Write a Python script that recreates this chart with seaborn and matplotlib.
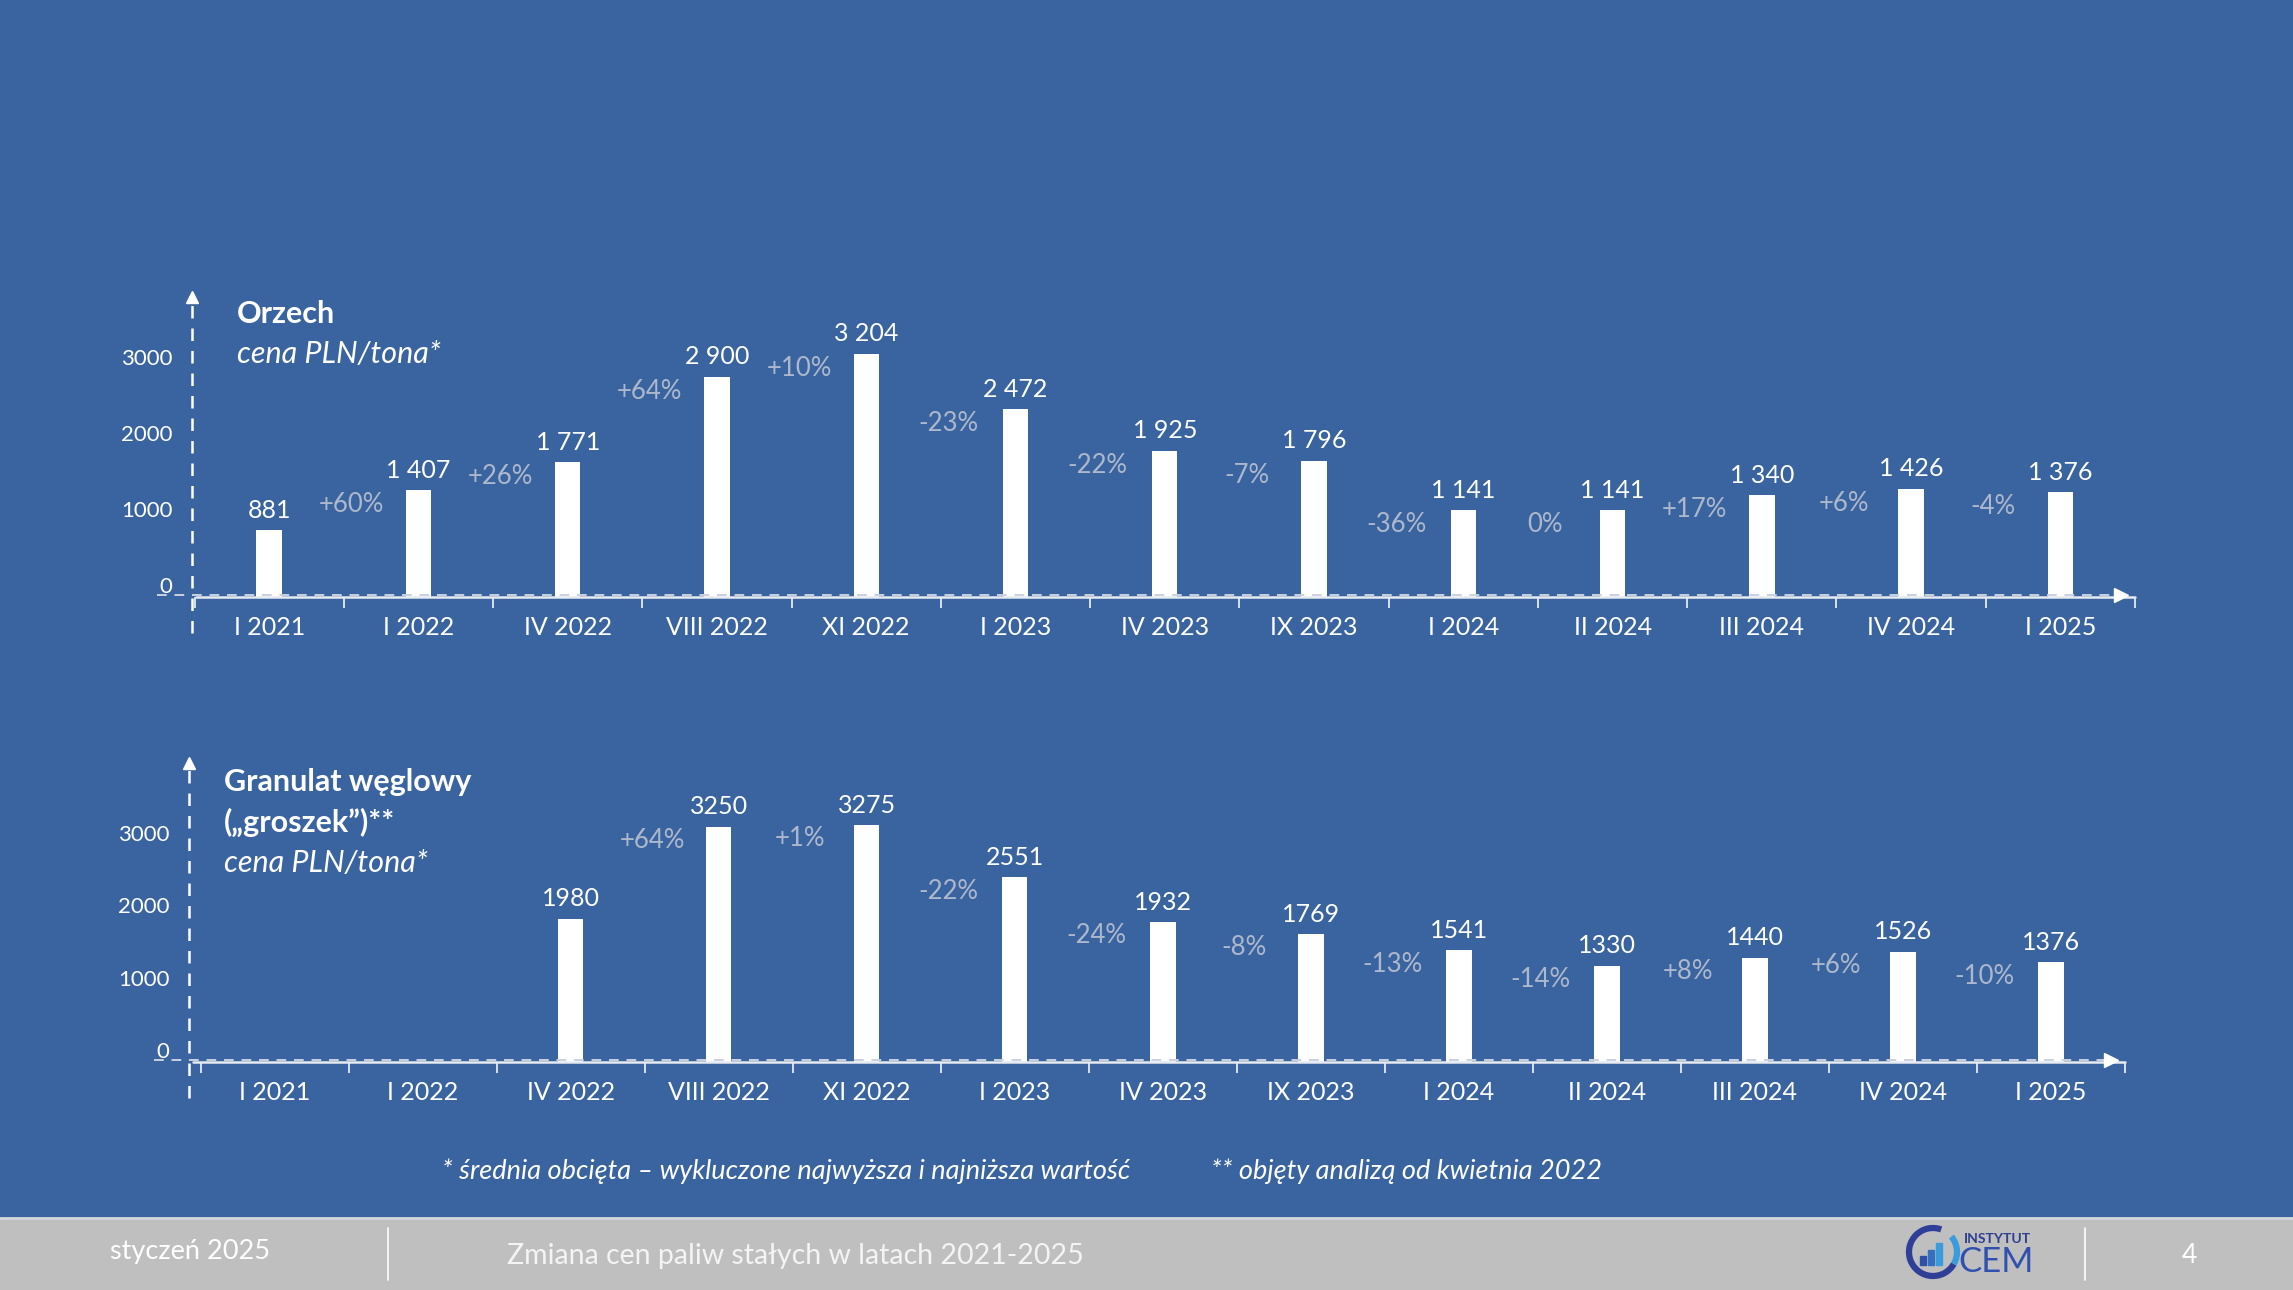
import numpy as np
import pandas as pd
import matplotlib
matplotlib.use("Agg")
import matplotlib.pyplot as plt
import seaborn as sns
from matplotlib.patches import Rectangle, Arc
from matplotlib.lines import Line2D

okresy = ["I 2021", "I 2022", "IV 2022", "VIII 2022", "XI 2022", "I 2023", "IV 2023",
          "IX 2023", "I 2024", "II 2024", "III 2024", "IV 2024", "I 2025"]
orzech = [881, 1407, 1771, 2900, 3204, 2472, 1925, 1796, 1141, 1141, 1340, 1426, 1376]
orzech_zmiana = ["+60%", "+26%", "+64%", "+10%", "-23%", "-22%", "-7%", "-36%",
                 "0%", "+17%", "+6%", "-4%"]
groszek = [np.nan, np.nan, 1980, 3250, 3275, 2551, 1932, 1769, 1541, 1330, 1440, 1526, 1376]
groszek_zmiana = ["+64%", "+1%", "-22%", "-24%", "-8%", "-13%", "-14%", "+8%", "+6%", "-10%"]
y_ticks = [0, 1000, 2000, 3000]

BG = "#3A64A0"
PCT = "#AEB8CC"
FOOT = "#BFBFBF"

sns.set_theme(style="white")
plt.rcParams["font.family"] = ["Lato", "DejaVu Sans"]

fig = plt.figure(figsize=(22.93, 12.9), dpi=100, facecolor=BG)


def spaced(v):
    return f"{int(v):,}".replace(",", " ")


def plain(v):
    return f"{int(v)}"


def draw_panel(ax, values, changes, fmt, ymax, xleft):
    df = pd.DataFrame({"okres": okresy, "cena": values})
    sns.barplot(data=df, x="okres", y="cena", order=okresy, color="white",
                saturation=1, width=0.17, edgecolor="none", ax=ax)
    ax.set_facecolor(BG)
    ax.set_xlim(xleft, 12.5)
    ax.set_ylim(0, ymax)
    ax.set(xlabel="", ylabel="")
    for s in ax.spines.values():
        s.set_visible(False)

    # value labels + change labels
    first = True
    for i, v in enumerate(values):
        if np.isnan(v):
            continue
        ax.annotate(fmt(v), (i, v), xytext=(0, 6), textcoords="offset points",
                    ha="center", va="bottom", color="white", fontsize=18)
        if first:
            first = False
            k = 0
            continue
        ax.text(i - 0.45, v - 190, changes[k], ha="center", va="center",
                color=PCT, fontsize=18.5)
        k += 1

    # y ticks
    ax.set_yticks(y_ticks)
    ax.set_yticklabels([str(t) for t in y_ticks])
    ax.tick_params(axis="y", length=0, pad=14, labelsize=16, labelcolor="white")
    for lab in ax.get_yticklabels():
        lab.set_va("bottom")

    # x ticks: labels at categories, small marks at boundaries
    ax.set_xticks(range(len(okresy)))
    ax.set_xticklabels(okresy)
    ax.set_xticks(np.arange(-0.5, 13, 1), minor=True)
    ax.tick_params(axis="x", which="both", bottom=True)
    ax.tick_params(axis="x", which="major", length=0, pad=14, labelsize=18,
                   labelcolor="white")
    ax.tick_params(axis="x", which="minor", length=8, width=1.3, color="#E6EAF1",
                   direction="out")

    # hand-drawn axes with arrows
    tr = ax.transAxes
    ax.add_line(Line2D([0, 0], [-0.12, 0.99], transform=tr, color="white", lw=1.8,
                       ls=(0, (5, 4)), clip_on=False))
    ax.plot([0], [1.0], marker="^", ms=9, color="white", transform=tr, clip_on=False)
    ax.add_line(Line2D([0.002, 1.0], [0, 0], transform=tr, color="#E6EAF1", lw=1.8,
                       clip_on=False))
    ax.add_line(Line2D([-0.018, 0.99], [0.008, 0.008], transform=tr, color="#C9D1DF",
                       lw=1.4, ls=(0, (5, 4)), clip_on=False))
    ax.plot([0.993], [0.008], marker=">", ms=10, color="white", transform=tr,
            clip_on=False)


ax1 = fig.add_axes([192 / 2293, 693 / 1290, 1943 / 2293, 300 / 1290])
draw_panel(ax1, orzech, orzech_zmiana, spaced, 3950, -0.517)

ax2 = fig.add_axes([189 / 2293, 228 / 1290, 1936 / 2293, 299 / 1290])
draw_panel(ax2, groszek, groszek_zmiana, plain, 4130, -0.58)

# panel titles
fig.text(237 / 2293, 0.7566, "Orzech", color="white", fontsize=22, fontweight="bold",
         va="center")
fig.text(237 / 2293, 0.7256, "cena PLN/tona*", color="white", fontsize=22,
         style="italic", va="center")
fig.text(224 / 2293, 0.3938, "Granulat węglowy", color="white", fontsize=22,
         fontweight="bold", va="center")
fig.text(224 / 2293, 0.3628, "(„groszek”)**", color="white", fontsize=22,
         fontweight="bold", va="center")
fig.text(224 / 2293, 0.3310, "cena PLN/tona*", color="white", fontsize=22,
         style="italic", va="center")

# footnotes
fig.text(442 / 2293, 0.0922, "* średnia obcięta – wykluczone najwyższa i najniższa wartość",
         color="white", fontsize=19.5, style="italic", va="center")
fig.text(1211 / 2293, 0.0922, "** objęty analizą od kwietnia 2022",
         color="white", fontsize=19.5, style="italic", va="center")

# footer band
fig.patches.append(Rectangle((0, 0), 1, 72 / 1290, transform=fig.transFigure,
                             color=FOOT, zorder=-2))
fig.lines.append(Line2D([0, 1], [72 / 1290, 72 / 1290], transform=fig.transFigure,
                        color="#D3D7DE", lw=2, zorder=-1))
for xp in (388 / 2293, 2085 / 2293):
    fig.lines.append(Line2D([xp, xp], [0.008, 0.048], transform=fig.transFigure,
                            color="white", lw=1.2))
fig.text(110 / 2293, 0.0295, "styczeń 2025", color="white", fontsize=19.5, va="center")
fig.text(507 / 2293, 0.0264, "Zmiana cen paliw stałych w latach 2021-2025",
         color="#F4F4F4", fontsize=20.5, va="center")
fig.text(2189 / 2293, 0.0264, "4", color="white", fontsize=19, va="center", ha="center")

# logo
lg = fig.add_axes([1900 / 2293, 5 / 1290, 150 / 2293, 65 / 1290])
lg.set_xlim(0, 150)
lg.set_ylim(0, 65)
lg.axis("off")
lg.add_patch(Arc((33, 33), 48, 48, theta1=70, theta2=330, color="#2F3F98", lw=4.5))
lg.add_patch(Arc((33, 33), 48, 48, theta1=330, theta2=400, color="#3A9BDD", lw=4.5))
for bx, bh, bc in [(20, 9, "#2F4FA8"), (28, 15, "#3570C0"), (36, 22, "#3A9BDD")]:
    lg.add_patch(Rectangle((bx, 20), 6, bh, color=bc))
lg.text(64, 46, "INSTYTUT", color="#2F3F8F", fontsize=10, fontweight="bold",
        va="center")
lg.text(58, 23, "CEM", color="#3050B0", fontsize=25, va="center")

fig.savefig("out.png", dpi=100, facecolor=BG)
